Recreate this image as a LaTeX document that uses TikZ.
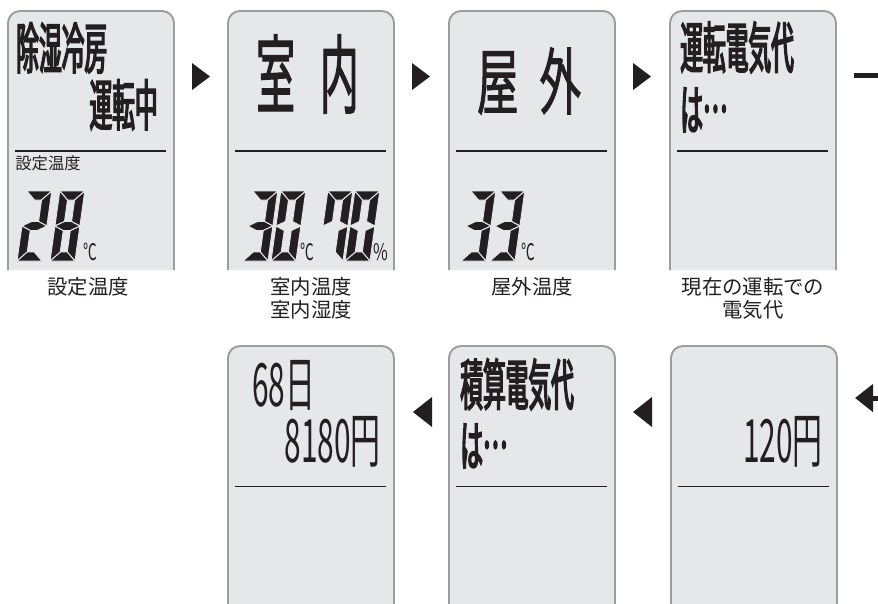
\documentclass[tikz,border=0pt]{standalone}
\usepackage{fontspec}
\usetikzlibrary{arrows.meta}
\newfontfamily\cjk{Noto Sans CJK JP}
\newfontfamily\cjkmed[FakeBold=1.2]{Noto Sans CJK JP}
\newfontfamily\cjkbold[FakeBold=2.6]{Noto Sans CJK JP}
\definecolor{lcdink}{HTML}{231F20}
\definecolor{lcdbg}{HTML}{E6E7E8}
\definecolor{lcdrim}{HTML}{9D9D9D}
\newlength\pxl \setlength\pxl{0.02cm}
% squeezed lcd lettering: #1 size in pt, #2 horizontal factor, #3 text
\newcommand{\lcd}[3]{\addfontfeatures{FakeStretch=#2}\fontsize{#1}{#1}\selectfont #3}
\newcommand{\lcddots}{\raisebox{0.33em}[0pt][0pt]{…}}
% seven segment digit, one macro per segment
\newcommand{\lcdsega}{\filldraw[seg] (0,70) -- (25,70) -- (16,61) -- (9,61) -- cycle;}
\newcommand{\lcdsegb}{\filldraw[seg] (25,70) -- (16,61) -- (16,39.5) -- (25,35) -- cycle;}
\newcommand{\lcdsegc}{\filldraw[seg] (25,35) -- (16,30.5) -- (16,9) -- (25,0) -- cycle;}
\newcommand{\lcdsegd}{\filldraw[seg] (0,0) -- (25,0) -- (16,9) -- (9,9) -- cycle;}
\newcommand{\lcdsege}{\filldraw[seg] (0,35) -- (9,30.5) -- (9,9) -- (0,0) -- cycle;}
\newcommand{\lcdsegf}{\filldraw[seg] (0,70) -- (9,61) -- (9,39.5) -- (0,35) -- cycle;}
\newcommand{\lcdsegg}{\filldraw[seg] (0,35) -- (9,39.5) -- (16,39.5) -- (25,35) -- (16,30.5) -- (9,30.5) -- cycle;}
\newcommand{\lcddigit}[3]{%
  \begin{scope}[shift={(#1,#2)},x=0.02cm,y=0.02cm,xslant=0.14]
    \foreach \s in {#3} {\csname lcdseg\s\endcsname}
  \end{scope}}
\tikzset{
  panel/.style={fill=lcdbg,draw=lcdrim,line width=1.1pt,rounded corners=0.24cm},
  rule/.style={draw=lcdink,line width=1pt},
  seg/.style={fill=lcdink,draw=lcdbg,line width=0.55pt,line join=round},
  tri/.style={fill=lcdink},
  lcdtxt/.style={inner sep=0pt,text=lcdink},
  lcdline/.style={lcdtxt,text height=26pt,text depth=3pt},
  caption/.style={inner sep=0pt,align=center,text=lcdink,font=\cjk\fontsize{11.6}{13}\selectfont},
  back/.style={draw=lcdink,line width=0.1cm,-{Triangle[length=0.36cm,width=0.54cm]}}
}
\begin{document}
\begin{tikzpicture}[x=0.02cm,y=-0.02cm]
\useasboundingbox (0,0) rectangle (878,603);
\clip (0,0) rectangle (878,603);
% panels
\foreach \px in {8,228,449,670} {
  \filldraw[panel] (\px,270) -- (\px,11) -- (\px+166,11) -- (\px+166,270);
  \draw[rule] (\px+7,151) -- (\px+158,151);
}
\foreach \px in {228,449,671} {
  \filldraw[panel] (\px,620) -- (\px,346) -- (\px+166,346) -- (\px+166,620);
  \draw[rule] (\px+7,486.5) -- (\px+158,486.5);
}
% step arrows
\foreach \ax in {192,412,633} \fill[tri] (\ax,63) -- (\ax,90) -- (\ax+18,76.5) -- cycle;
\foreach \ax in {413,633} \fill[tri] (\ax,412) -- (\ax+19,397) -- (\ax+19,427) -- cycle;
% back to the lower row
\coordinate (out4) at (854,75.5);
\coordinate (turn) at (910,75.5);
\coordinate (in7) at (855,398);
\draw[back] (out4) -- (turn) |- (in7);

% panel 1
\node[lcdline,anchor=west] (mode) at (16,48.5) {\cjkbold\lcd{31.5}{0.41}{除湿冷房}};
\node[lcdline,anchor=east] (running) at (158,105.5) {\cjkbold\lcd{31.5}{0.41}{運転中}};
\node[lcdtxt,anchor=west] (settemp) at (15,163) {\cjk\fontsize{9.3}{9.3}\selectfont 設定温度};
\lcddigit{17}{261}{a,b,g,e,d}
\lcddigit{50}{261}{a,b,c,d,e,f,g}
\node[lcdtxt,anchor=west] (deg1) at (83,252) {\cjk\lcd{13}{0.6}{℃}};
% panel 2
\node[lcdtxt] (room) at (307.5,74) {\cjkmed\lcd{49}{0.45}{室\hspace{25\pxl}内}};
\lcddigit{243}{261}{a,b,g,c,d}
\lcddigit{271}{261}{a,b,c,d,e,f}
\node[lcdtxt,anchor=west] (deg2) at (300,252) {\cjk\lcd{13}{0.6}{℃}};
\lcddigit{318}{261}{a,b,c,f}
\lcddigit{345}{261}{a,b,c,d,e,f}
\node[lcdtxt,anchor=west] (pct) at (373,252) {\cjk\lcd{13}{0.7}{\%}};
% panel 3
\node[lcdtxt] (outside) at (529,81) {\cjkmed\lcd{41.5}{0.57}{屋\hspace{21\pxl}外}};
\lcddigit{461}{261}{a,b,g,c,d}
\lcddigit{490}{261}{a,b,g,c,d}
\node[lcdtxt,anchor=west] (deg3) at (521,252) {\cjk\lcd{13}{0.6}{℃}};
% panel 4
\node[lcdline,anchor=west] (nowcost) at (680,48) {\cjkbold\lcd{31.5}{0.41}{運転電気代}};
\node[lcdline,anchor=west] (nowis) at (680,110) {\cjkbold\lcd{31.5}{0.41}{は\lcddots}};
% panel 5
\node[lcdtxt,anchor=west] (days) at (252,385) {\cjk\lcd{34}{0.5}{68日}};
\node[lcdtxt,anchor=east] (total) at (381,441.5) {\cjk\lcd{34}{0.5}{8180円}};
% panel 6
\node[lcdline,anchor=west] (sumcost) at (460,385) {\cjkbold\lcd{31.5}{0.41}{積算電気代}};
\node[lcdline,anchor=west] (sumis) at (460,446) {\cjkbold\lcd{31.5}{0.41}{は\lcddots}};
% panel 7
\node[lcdtxt,anchor=east] (yen) at (823,441.5) {\cjk\lcd{34}{0.5}{120円}};

% captions
\node[caption] (cap1) at (88,287) {設定温度};
\node[caption] (cap2) at (311,298) {室内温度\\室内湿度};
\node[caption] (cap3) at (532,287) {屋外温度};
\node[caption] (cap4) at (753,298) {現在の運転での\\電気代};
\end{tikzpicture}
\end{document}
